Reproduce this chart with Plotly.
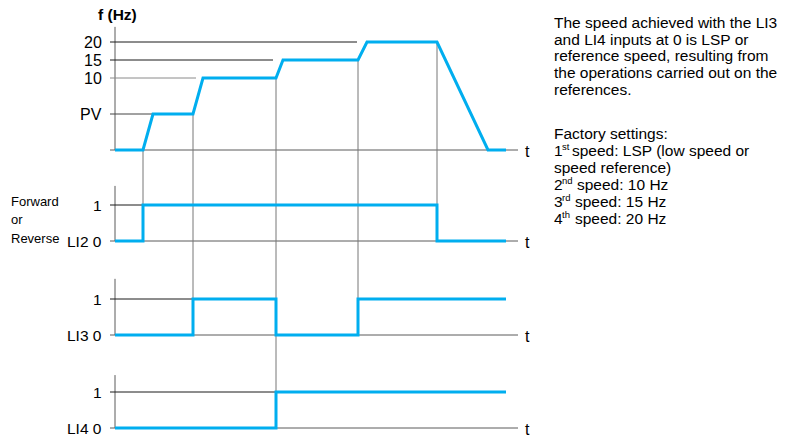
import numpy as np
import plotly.graph_objects as go

# ---------------- data ----------------
# frequency profile (time in arbitrary units, level names)
freq_time = [0, 2.8, 3.8, 7.8, 8.8, 16.1, 16.8, 24.3, 25.2, 32.2, 37.3, 39.1]
freq_level = ["0", "0", "PV", "PV", "10", "10", "15", "15", "20", "20", "0", "0"]
# schematic (non linear) height of each speed level on the f axis
level_names = ["0", "PV", "10", "15", "20"]
level_heights = [0.0, 1.0, 2.0, 2.5, 3.0]
freq_tick_labels = ["PV", "10", "15", "20"]

# logic inputs (step signals: state holds from each time to the next)
li2_time = [0, 2.8, 32.2, 39.1]
li2_state = [0, 1, 0, 0]
li3_time = [0, 7.8, 16.1, 24.3, 39.1]
li3_state = [0, 1, 0, 1, 1]
li4_time = [0, 16.1, 39.1]
li4_state = [0, 1, 1]

# switching events: (time, input that triggers it)
event_time = [2.8, 7.8, 16.1, 24.3, 32.2]
event_input = ["LI2", "LI3", "LI4", "LI3", "LI2"]

right_text_1 = ["The speed achieved with the LI3",
                "and LI4 inputs at 0 is LSP or",
                "reference speed, resulting from",
                "the operations carried out on the",
                "references."]
right_text_2_head = "Factory settings:"
speed_num = ["1", "", "2", "3", "4"]
speed_sup = ["st", "", "nd", "rd", "th"]
speed_rest = ["speed: LSP (low speed or", "speed reference)",
              "speed: 10 Hz", "speed: 15 Hz", "speed: 20 Hz"]

# ---------------- layout / style ----------------
W, H = 787, 439
X0_PX, X_UNIT = 115, 10.0      # time 0 at px 115, 10 px per time unit
Y0_PX, Y_UNIT = 428, 36.0      # y 0 at px 428 (from top), 36 px per unit

def px_x(p):
    return (p - X0_PX) / X_UNIT

def px_y(p):
    return (Y0_PX - p) / Y_UNIT

base = {"f": px_y(150), "LI2": px_y(241), "LI3": px_y(335), "LI4": px_y(428)}
axis_h = {"f": 3.42, "LI2": 1.53, "LI3": 1.56, "LI4": 1.47}
t_start, t_end = -0.5, 40.3
grid_end = [3.8, 8.1, 15.8, 24.2]          # end of PV/10/15/20 reference lines
grid_col = ["#444444", "#8a8a8a", "#1a1a1a", "#1a1a1a"]

BLUE = "#00AEEF"
AXIS = "#5a5a5a"
CONN = "#777777"
FONT = "Liberation Sans, Arial, sans-serif"
TXT = "#000000"

height_of = dict(zip(level_names, level_heights))
freq_h = np.array([height_of[l] for l in freq_level])

signals = {"LI2": (li2_time, li2_state),
           "LI3": (li3_time, li3_state),
           "LI4": (li4_time, li4_state)}

fig = go.Figure()

def seg(x, y, color, width=1):
    fig.add_trace(go.Scatter(x=x, y=y, mode="lines",
                             line=dict(color=color, width=width),
                             hoverinfo="skip", showlegend=False))

# panel axes
for k in ["f", "LI2", "LI3", "LI4"]:
    seg([t_start, t_end], [base[k], base[k]], AXIS)
    seg([0, 0], [base[k], base[k] + axis_h[k]], AXIS)

# frequency reference lines
for lab, end, col in zip(freq_tick_labels, grid_end, grid_col):
    yv = base["f"] + height_of[lab]
    seg([t_start, end], [yv, yv], col)

# logic "1" reference lines (up to first switching to 1)
for k, (tt, ss) in signals.items():
    first_on = tt[ss.index(1)]
    seg([t_start, first_on], [base[k] + 1, base[k] + 1], "#1a1a1a")

# connectors between frequency changes and input changes
for te, inp in zip(event_time, event_input):
    ytop = base["f"] + float(np.interp(te, freq_time, freq_h))
    seg([te, te], [ytop, base[inp] + 1], CONN)

# signals
fig.add_trace(go.Scatter(x=freq_time, y=base["f"] + freq_h, mode="lines",
                         line=dict(color=BLUE, width=3),
                         hoverinfo="skip", showlegend=False))
for k, (tt, ss) in signals.items():
    fig.add_trace(go.Scatter(x=tt, y=[base[k] + s for s in ss], mode="lines",
                             line=dict(color=BLUE, width=3, shape="hv"),
                             hoverinfo="skip", showlegend=False))

ann = []
def text(x, y, s, size=15, anchor="right", bold=False):
    if bold:
        s = "<b>" + s + "</b>"
    ann.append(dict(x=x, y=y, xref="x", yref="y", text=s, showarrow=False,
                    xanchor=anchor, yanchor="middle", borderpad=0,
                    font=dict(family=FONT, size=size, color=TXT)))

# f axis labels
text(px_x(97), px_y(14), "f (Hz)", size=15.5, anchor="left", bold=True)
for lab in freq_tick_labels:
    text(px_x(103), base["f"] + height_of[lab], lab, size=16)
# logic labels
for k in ["LI2", "LI3", "LI4"]:
    text(px_x(103), base[k] + 1, "1", size=15.5)
    text(px_x(103), base[k], k + " 0", size=15.5)
text(px_x(10), px_y(201), "Forward", size=13, anchor="left")
text(px_x(10), px_y(219.5), "or", size=13, anchor="left")
text(px_x(10), px_y(238), "Reverse", size=13, anchor="left")
# t labels
for k in ["f", "LI2", "LI3", "LI4"]:
    text(px_x(523.5), base[k] - 1.5 / Y_UNIT, "t", size=16, anchor="left")

# right-hand notes
RS = 15.5
for i, s in enumerate(right_text_1):
    text(px_x(553), px_y(22.2 + i * 16.8), s, size=RS, anchor="left")
text(px_x(553), px_y(133), right_text_2_head, size=RS, anchor="left")
rest_x = [571, 553, 576, 574, 574]
for i, (n, sp, r) in enumerate(zip(speed_num, speed_sup, speed_rest)):
    yc = 133 + (i + 1) * 17.0
    if n:
        text(px_x(552.5), px_y(yc), n, size=RS, anchor="left")
        text(px_x(561.4), px_y(yc - 3.6), sp, size=9.5, anchor="left")
    text(px_x(rest_x[i]), px_y(yc), r, size=RS, anchor="left")

fig.update_layout(
    width=W, height=H,
    margin=dict(l=0, r=0, t=0, b=0),
    paper_bgcolor="white", plot_bgcolor="white",
    showlegend=False, hovermode=False,
    annotations=ann,
    xaxis=dict(range=[px_x(0), px_x(W)], visible=False, fixedrange=True),
    yaxis=dict(range=[px_y(H), px_y(0)], visible=False, fixedrange=True),
)

fig.write_html("out.html", config={"displayModeBar": False},
               post_script="document.body.style.margin='0px';"
                           "document.body.style.overflow='hidden';")
